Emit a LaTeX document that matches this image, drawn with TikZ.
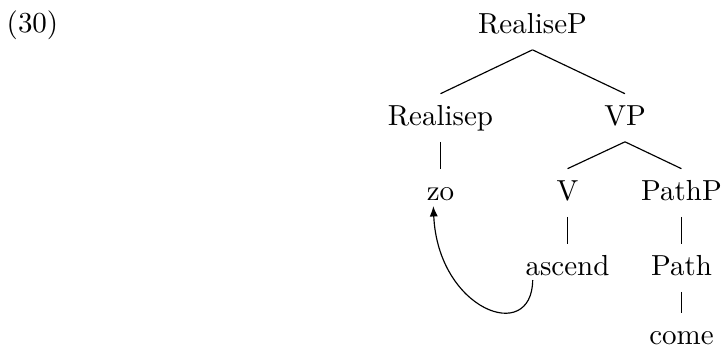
\documentclass[tikz,border=0pt]{standalone}
\usetikzlibrary{calc,arrows.meta}
\begin{document}
\begin{tikzpicture}[x=0.345pt,y=-0.345pt,
  lab/.style={anchor=base,inner sep=3.6pt,text height=7pt,text depth=2pt},
  edge/.style={line width=0.4pt},
  move/.style={line width=0.4pt,-{Latex[length=3.6pt,width=2.8pt]}}]
\useasboundingbox (0,0) rectangle (721,349);
\node[lab] (ex) at (32.5,32) {(30)};
\node[lab] (rp) at (532.5,33) {RealiseP};
\node[lab] (rh) at (440.5,125) {Realisep};
\node[lab] (vp) at (625,125) {VP};
\node[lab] (zo) at (440.5,200) {zo};
\node[lab] (v) at (567.5,200) {V};
\node[lab] (pp) at (681.5,200) {PathP};
\node[lab] (asc) at (567.5,275) {ascend};
\node[lab] (p) at (681.5,275) {Path};
\node[lab] (come) at (681.5,344) {come};
\draw[edge] (rp.south) -- (rh.north);
\draw[edge] (rp.south) -- (vp.north);
\draw[edge] (rh.south) -- (rh.south |- zo.north);
\draw[edge] (vp.south) -- (v.north);
\draw[edge] (vp.south) -- (pp.north);
\draw[edge] (v.south) -- (v.south |- asc.north);
\draw[edge] (pp.south) -- (pp.south |- p.north);
\draw[edge] (p.south) -- (p.south |- come.north);
\coordinate (s) at ($(asc.base)+(-34.8,5)$);
\coordinate (t) at ($(zo.base)+(-7.2,6)$);
\draw[move] (s) .. controls +(-0.7,65) and +(4.7,104) .. (t);
\end{tikzpicture}
\end{document}
